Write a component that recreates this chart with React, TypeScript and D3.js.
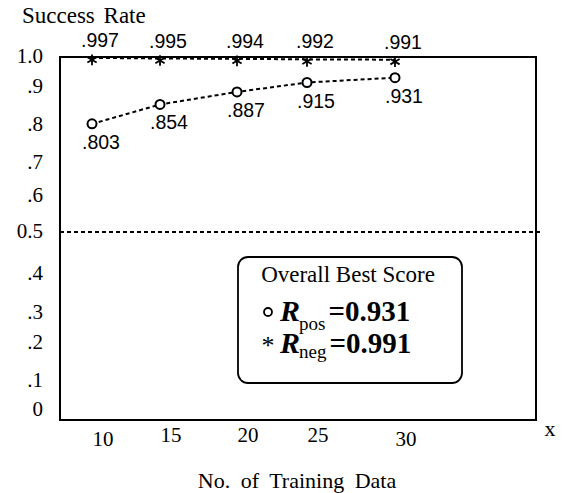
import React from "react";
import * as d3 from "d3";

const xValues = [10, 15, 20, 25, 30];
const posValues = [0.803, 0.854, 0.887, 0.915, 0.931];
const negValues = [0.997, 0.995, 0.994, 0.992, 0.991];
const posLabels = [".803", ".854", ".887", ".915", ".931"];
const negLabels = [".997", ".995", ".994", ".992", ".991"];
const yTickValues = [0, 0.1, 0.2, 0.3, 0.4, 0.5, 0.6, 0.7, 0.8, 0.9, 1.0];
const yTickLabels = ["0", ".1", ".2", ".3", ".4", "0.5", ".6", ".7", ".8", ".9", "1.0"];
const xTickLabels = ["10", "15", "20", "25", "30"];
const threshold = 0.5;

const W = 571;
const H = 493;
const frame = { left: 60, top: 57, right: 536, bottom: 420 };

const xScale = d3.scaleLinear().domain(xValues).range([92, 160, 237, 307, 395]);
const yScale = d3
  .scaleLinear()
  .domain(yTickValues)
  .range([410, 381, 343, 313, 274, 232, 196, 163, 125, 87, 57]);

const serif = "'Liberation Serif', 'Times New Roman', serif";
const sans = "'Liberation Sans', Arial, sans-serif";

export default function App() {
  const line = d3
    .line<number>()
    .x((_, i) => xScale(xValues[i]))
    .y((d) => yScale(d));
  const star = d3.symbol(d3.symbolAsterisk, 80)();

  return (
    <svg width={W} height={H} style={{ position: "absolute", left: 0, top: 0, background: "#fff" }}>
      <rect x={0} y={0} width={W} height={H} fill="#fff" />
      {/* y axis title */}
      <text x={22} y={23} fontFamily={serif} fontSize={23} fill="#000" style={{ wordSpacing: 3 }}>
        Success Rate
      </text>
      {/* frame */}
      <rect
        x={frame.left}
        y={frame.top}
        width={frame.right - frame.left}
        height={frame.bottom - frame.top}
        fill="none"
        stroke="#000"
        strokeWidth={2}
      />
      {/* y ticks */}
      {yTickValues.map((v, i) => (
        <text
          key={"yt" + i}
          x={43}
          y={yScale(v) + 6}
          textAnchor="end"
          fontFamily={serif}
          fontSize={21}
          fill="#000"
        >
          {yTickLabels[i]}
        </text>
      ))}
      {/* x ticks */}
      {xValues.map((v, i) => (
        <text
          key={"xt" + i}
          x={xScale(v) + 11}
          y={i === 0 || i === 4 ? 446 : 442}
          textAnchor="middle"
          fontFamily={serif}
          fontSize={21}
          fill="#000"
        >
          {xTickLabels[i]}
        </text>
      ))}
      <text x={550} y={436} textAnchor="middle" fontFamily={serif} fontSize={22} fill="#000">
        x
      </text>
      <text x={297} y={488} textAnchor="middle" fontFamily={serif} fontSize={22} fill="#000" style={{ wordSpacing: 5 }}>
        No. of Training Data
      </text>
      {/* 0.5 threshold */}
      <line
        x1={frame.left}
        x2={540}
        y1={yScale(threshold)}
        y2={yScale(threshold)}
        stroke="#000"
        strokeWidth={2}
        strokeDasharray="4,3"
      />
      {/* neg series */}
      <path d={line(negValues) || ""} fill="none" stroke="#000" strokeWidth={2} strokeDasharray="4,3" />
      {negValues.map((v, i) => (
        <path
          key={"s" + i}
          d={star || ""}
          transform={`translate(${xScale(xValues[i])},${yScale(v) + 2})`}
          fill="none"
          stroke="#000"
          strokeWidth={1.8}
        />
      ))}
      {negValues.map((v, i) => (
        <text
          key={"nl" + i}
          x={xScale(xValues[i]) + 8}
          y={yScale(v) - 11}
          textAnchor="middle"
          fontFamily={sans}
          fontSize={19.5}
          fill="#000"
        >
          {negLabels[i]}
        </text>
      ))}
      {/* pos series */}
      <path d={line(posValues) || ""} fill="none" stroke="#000" strokeWidth={2} strokeDasharray="4,3" />
      {posValues.map((v, i) => (
        <circle
          key={"c" + i}
          cx={xScale(xValues[i])}
          cy={yScale(v)}
          r={4.5}
          fill="#fff"
          stroke="#000"
          strokeWidth={2}
        />
      ))}
      {posValues.map((v, i) => (
        <text
          key={"pl" + i}
          x={xScale(xValues[i]) + 9}
          y={yScale(v) + 25}
          textAnchor="middle"
          fontFamily={sans}
          fontSize={19.5}
          fill="#000"
        >
          {posLabels[i]}
        </text>
      ))}
      {/* legend */}
      <rect x={238} y={257} width={224} height={126} rx={10} ry={10} fill="#fff" stroke="#000" strokeWidth={1.8} />
      <text x={348} y={282} textAnchor="middle" fontFamily={serif} fontSize={23} fill="#000">
        Overall Best Score
      </text>
      <circle cx={268} cy={312} r={4} fill="none" stroke="#000" strokeWidth={1.8} />
      <text x={280} y={321} fontFamily={serif} fill="#000">
        <tspan fontSize={30} fontWeight="bold" fontStyle="italic">R</tspan>
        <tspan fontSize={19} dy={9} dx={-1}>pos</tspan>
        <tspan fontSize={29} fontWeight="bold" dy={-9} dx={3}>=0.931</tspan>
      </text>
      <text x={268} y={354} textAnchor="middle" fontFamily={serif} fontSize={26} fill="#000">
        *
      </text>
      <text x={280} y={353} fontFamily={serif} fill="#000">
        <tspan fontSize={30} fontWeight="bold" fontStyle="italic">R</tspan>
        <tspan fontSize={19} dy={5} dx={-1}>neg</tspan>
        <tspan fontSize={29} fontWeight="bold" dy={-5} dx={3}>=0.991</tspan>
      </text>
    </svg>
  );
}
